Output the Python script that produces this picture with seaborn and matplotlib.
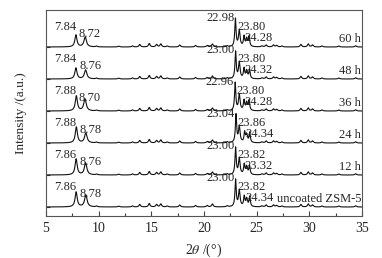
import numpy as np
import pandas as pd
import matplotlib
matplotlib.use("Agg")
import matplotlib.pyplot as plt
import seaborn as sns

# ---------------- data ----------------
series = ["uncoated ZSM-5", "12 h", "24 h", "36 h", "48 h", "60 h"]

# labelled peak positions (2theta, degrees)
pos_a = [7.86, 7.86, 7.88, 7.88, 7.84, 7.84]
pos_b = [8.78, 8.76, 8.78, 8.70, 8.76, 8.72]
pos_c = [23.00, 23.00, 23.04, 22.96, 23.00, 22.98]
pos_d = [23.82, 23.82, 23.86, 23.80, 23.80, 23.80]
pos_e = [24.34, 24.32, 24.34, 24.28, 24.32, 24.28]
text_e = ["24.34", "23.32", "24.34", "24.28", "24.32", "24.28"]

# labelled peak heights (a.u.)
h_a = [15, 16, 16, 15, 11, 12]
h_b = [12, 12, 10, 12, 9, 10]
h_c = [27, 27, 28, 28, 27, 28]
h_d = [10, 10, 10, 10, 10, 10]
h_e = [10, 9, 10, 10, 9, 10]

# weaker ZSM-5 reflections shared by all samples
minor_pos = [9.8, 11.9, 13.2, 13.9, 14.8, 15.5, 15.9, 16.5, 17.7, 19.2, 20.3,
             20.8, 22.2, 23.35, 24.05, 25.5, 25.9, 26.6, 26.9, 27.4, 29.2,
             29.9, 30.3, 31.2, 32.8, 34.4]
minor_h = [0.8, 0.8, 1.0, 2.5, 3.5, 2.5, 3.0, 1.0, 2.0, 1.5, 1.5,
           3.0, 1.0, 16.0, 8.0, 1.0, 2.0, 2.0, 1.5, 1.0, 2.5,
           3.0, 2.0, 1.0, 1.0, 1.2]

# ---------------- build profiles ----------------
two_theta = np.linspace(5, 35, 3001)
spacing = 32
base0 = 9


def lorentz(x, p, h, g):
    return h * g ** 2 / ((x - p) ** 2 + g ** 2)


rows = []
for i, name in enumerate(series):
    y = np.full_like(two_theta, base0 + i * spacing, dtype=float)
    y += lorentz(two_theta, pos_a[i], h_a[i], 0.12)
    y += lorentz(two_theta, pos_b[i], h_b[i], 0.14)
    y += lorentz(two_theta, pos_c[i], h_c[i], 0.07)
    y += lorentz(two_theta, pos_d[i], h_d[i], 0.07)
    y += lorentz(two_theta, pos_e[i], h_e[i], 0.07)
    for p, h in zip(minor_pos, minor_h):
        y += lorentz(two_theta, p, h, 0.09)
    rows.append(pd.DataFrame({"tt": two_theta, "I": y, "sample": name}))
df = pd.concat(rows, ignore_index=True)

# ---------------- plot ----------------
sns.set_theme(style="ticks")
plt.rcParams["font.family"] = ["Liberation Serif", "DejaVu Serif"]
plt.rcParams["mathtext.fontset"] = "stix"

fig = plt.figure(figsize=(3.82, 2.58), dpi=100)
ax = fig.add_axes([46 / 382, 1 - 216 / 258, 316 / 382, 206 / 258])

sns.lineplot(data=df, x="tt", y="I", units="sample", estimator=None,
             color="#111111", lw=0.8, ax=ax, legend=False, sort=False)

fs = 9
for i, name in enumerate(series):
    b = base0 + i * spacing
    ax.text(pos_a[i] + 0.02, b + 20, f"{pos_a[i]:.2f}", ha="right", va="center", fontsize=fs)
    ax.text(pos_b[i] - 0.6, b + 13, f"{pos_b[i]:.2f}", ha="left", va="center", fontsize=fs)
    ax.text(pos_c[i] - 0.1, b + 29, f"{pos_c[i]:.2f}", ha="right", va="center", fontsize=fs)
    ax.text(pos_c[i] + 0.15, b + 20, f"{pos_d[i]:.2f}", ha="left", va="center", fontsize=fs)
    ax.text(pos_e[i] - 0.45, b + 9, text_e[i], ha="left", va="center", fontsize=fs)
    ax.text(34.92, b + 8, name, ha="right", va="center", fontsize=fs)

ax.set_xlim(5, 35)
ax.set_ylim(0, 206)
ax.set_xticks([5, 10, 15, 20, 25, 30, 35])
ax.set_xticks(np.arange(7.5, 35, 5), minor=True)
ax.set_yticks([base0 + i * spacing for i in range(len(series))])
ax.set_yticklabels([])
ax.tick_params(axis="both", which="both", direction="in", labelsize=10,
               color="#444444", width=0.8)
ax.tick_params(axis="x", which="major", length=3.5, pad=4)
ax.tick_params(axis="x", which="minor", length=2)
ax.tick_params(axis="y", length=3)
for s in ax.spines.values():
    s.set_color("#555555")
    s.set_linewidth(0.8)

ax.set_xlabel(r"2$\theta$ /(°)", fontsize=10, labelpad=5)
ax.set_ylabel("Intensity /(a.u.)", fontsize=9.5, labelpad=10)

fig.savefig("out.png", dpi=100)
